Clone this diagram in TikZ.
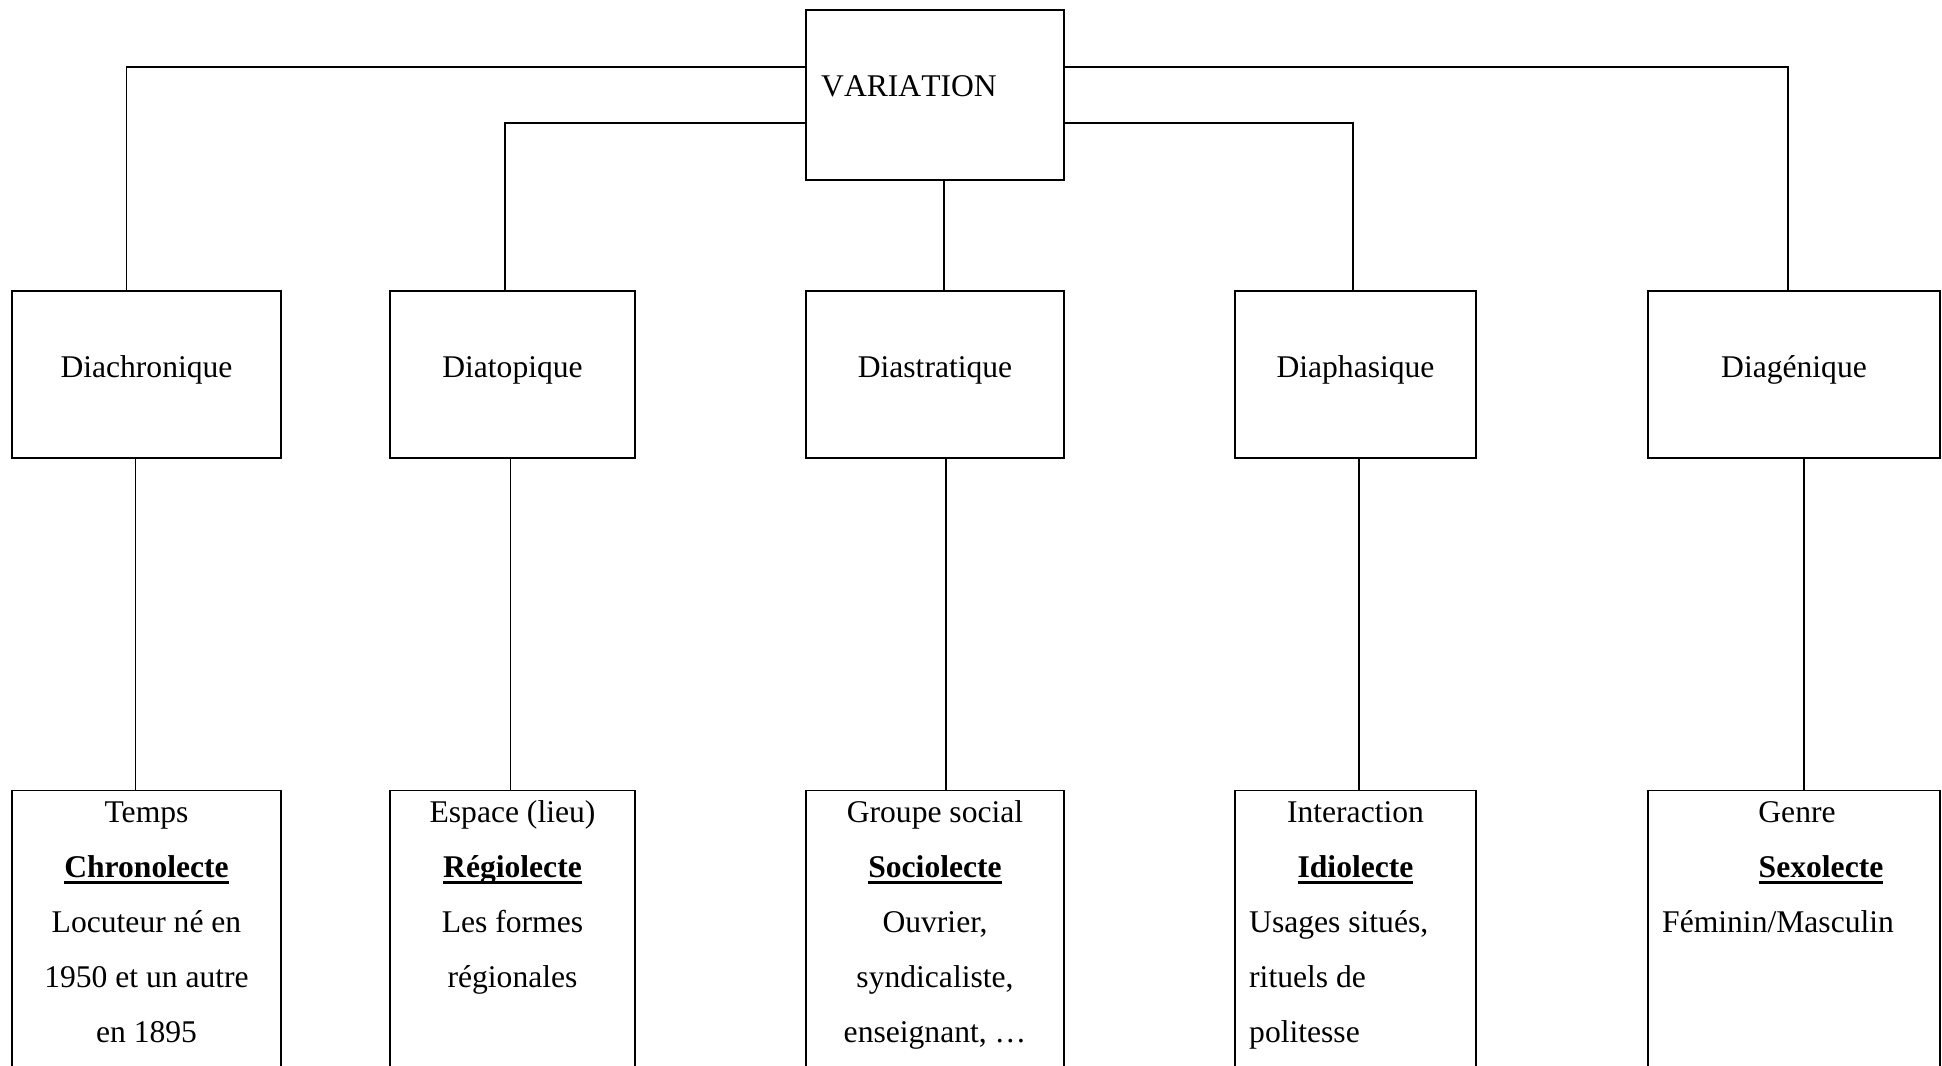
\documentclass[tikz,border=0pt]{standalone}
\usepackage{fontspec}
\setmainfont{Liberation Serif}
\newcommand{\ulbf}[1]{\setbox0\hbox{\bfseries #1}\rlap{\rule[-6.5pt]{\wd0}{3pt}}\box0}
\begin{document}
\begin{tikzpicture}[x=1pt,y=-1pt,
  box/.style={draw,line width=1.4pt,inner sep=0pt,outer sep=0pt},
  conn/.style={line width=1.3pt},
  txt/.style={inner sep=0pt,anchor=base,font=\fontsize{31.6}{38}\selectfont},
  txtl/.style={txt,anchor=base west}]
\useasboundingbox[fill=white] (0,0) rectangle (1942,1065);
\clip (0,0) rectangle (1942,1065);
% top box
\node[box,minimum width=258pt,minimum height=170pt] (var) at (935,95) {};
\node[txtl] (vart) at (821,96) {\addfontfeatures{Kerning=Off}VARIATION};
% middle row
\node[box,minimum width=269pt,minimum height=167pt] (dia) at (146.5,374.5) {};
\node[box,minimum width=245pt,minimum height=167pt] (dtop) at (512.5,374.5) {};
\node[box,minimum width=258pt,minimum height=167pt] (dstr) at (935,374.5) {};
\node[box,minimum width=241pt,minimum height=167pt] (dpha) at (1355.5,374.5) {};
\node[box,minimum width=292pt,minimum height=167pt] (dgen) at (1794,374.5) {};
\node[txt] (diat) at (146.5,377.5) {Diachronique};
\node[txt] (dtopt) at (512.5,377.5) {Diatopique};
\node[txt] (dstrt) at (935,377.5) {Diastratique};
\node[txt] (dphat) at (1355.5,377.5) {Diaphasique};
\node[txt] (dgent) at (1794,377.5) {Diagénique};
% bottom row
\node[box,minimum width=269pt,minimum height=300pt] (b1) at (146.5,940.5) {};
\node[box,minimum width=245pt,minimum height=300pt] (b2) at (512.5,940.5) {};
\node[box,minimum width=258pt,minimum height=300pt] (b3) at (935,940.5) {};
\node[box,minimum width=241pt,minimum height=300pt] (b4) at (1355.5,940.5) {};
\node[box,minimum width=292pt,minimum height=300pt] (b5) at (1794,940.5) {};
% bottom texts
\node[txt] (b1a) at (146.5,822) {Temps};
\node[txt] (b1b) at (146.5,877) {\ulbf{Chronolecte}};
\node[txt] (b1c) at (146.5,932) {Locuteur né en};
\node[txt] (b1d) at (146.5,987) {1950 et un autre};
\node[txt] (b1e) at (146.5,1042) {en 1895};
\node[txt] (b2a) at (512.5,822) {Espace (lieu)};
\node[txt] (b2b) at (512.5,877) {\ulbf{Régiolecte}};
\node[txt] (b2c) at (512.5,932) {Les formes};
\node[txt] (b2d) at (512.5,987) {régionales};
\node[txt] (b3a) at (935,822) {Groupe social};
\node[txt] (b3b) at (935,877) {\ulbf{Sociolecte}};
\node[txt] (b3c) at (935,932) {Ouvrier,};
\node[txt] (b3d) at (935,987) {syndicaliste,};
\node[txt] (b3e) at (935,1042) {enseignant, …};
\node[txt] (b4a) at (1355.5,822) {Interaction};
\node[txt] (b4b) at (1355.5,877) {\ulbf{Idiolecte}};
\node[txtl] (b4c) at (1249,932) {Usages situés,};
\node[txtl] (b4d) at (1249,987) {rituels de};
\node[txtl] (b4e) at (1249,1042) {politesse};
\node[txt] (b5a) at (1797,822) {Genre};
\node[txt] (b5b) at (1821,877) {\ulbf{Sexolecte}};
\node[txtl] (b5c) at (1662,932) {Féminin/Masculin};
% connectors top
\draw[conn] ([yshift=28pt]var.west) -| ([xshift=-20pt]dia.north);
\draw[conn] ([yshift=-28pt]var.west) -| ([xshift=-7.5pt]dtop.north);
\draw[conn] ([xshift=9pt]var.south) -- ([xshift=9pt]dstr.north);
\draw[conn] ([yshift=-28pt]var.east) -| ([xshift=-2.5pt]dpha.north);
\draw[conn] ([yshift=28pt]var.east) -| ([xshift=-6pt]dgen.north);
% connectors bottom
\draw[conn] ([xshift=-11pt]dia.south) -- ([xshift=-11pt]b1.north);
\draw[conn] ([xshift=-2pt]dtop.south) -- ([xshift=-2pt]b2.north);
\draw[conn] ([xshift=11pt]dstr.south) -- ([xshift=11pt]b3.north);
\draw[conn] ([xshift=3.5pt]dpha.south) -- ([xshift=3.5pt]b4.north);
\draw[conn] ([xshift=10pt]dgen.south) -- ([xshift=10pt]b5.north);
\end{tikzpicture}
\end{document}
